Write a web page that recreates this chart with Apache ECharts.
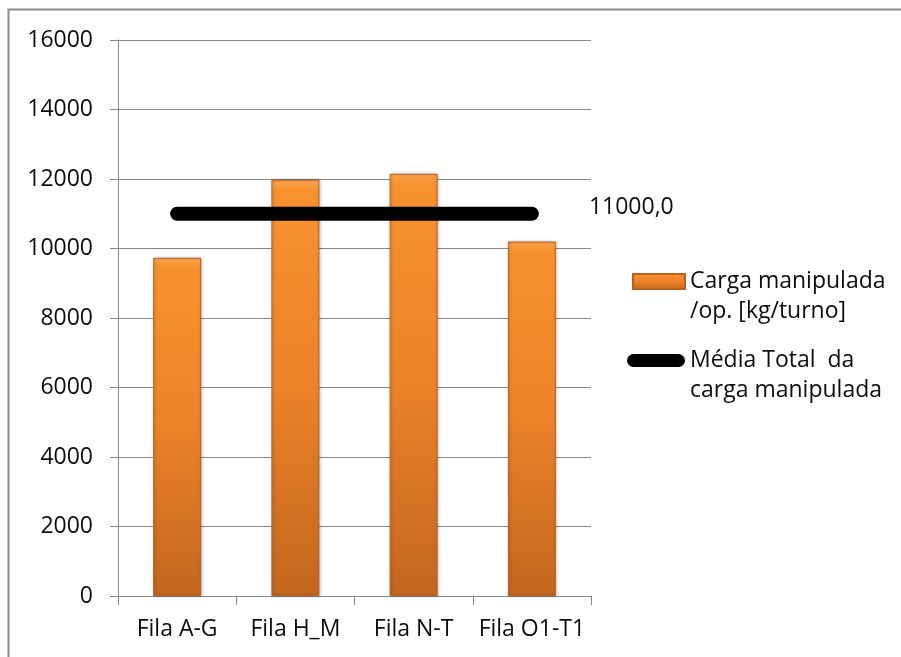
<!DOCTYPE html>
<html>
<head>
<meta charset="utf-8">
<title>Carga manipulada por fila</title>
<script src="https://cdn.jsdelivr.net/npm/echarts@6/dist/echarts.min.js"></script>
<style>
  html, body { margin: 0; padding: 0; background: #fff; }
  #chart { width: 901px; height: 657px; }
</style>
</head>
<body>
<div id="chart"></div>
<script>
// Rows of the warehouse and the load handled per operator in each
const categories = ['Fila A-G', 'Fila H_M', 'Fila N-T', 'Fila O1-T1'];
const cargaValues = [9730, 11980, 12150, 10200];
// Overall average, drawn as a flat line across the rows
const mediaTotal = 11000;
const mediaValues = [mediaTotal, mediaTotal, mediaTotal, mediaTotal];
const yTicks = { min: 0, max: 16000, step: 2000 };
const seriesNames = ['Carga manipulada\n/op. [kg/turno]', 'Média Total  da\ncarga manipulada'];

const FONT = "'Open Sans', 'Noto Sans', sans-serif";
const AXIS_GRAY = '#878787';
const TEXT_COLOR = '#0d0d0d';
const LINE_H = 30;

const chart = echarts.init(document.getElementById('chart'), null, { renderer: 'canvas' });

const barGradient = new echarts.graphic.LinearGradient(0, 0, 0, 1, [
  { offset: 0, color: '#FBA650' },
  { offset: 0.025, color: '#F8922F' },
  { offset: 0.5, color: '#EC8229' },
  { offset: 1, color: '#C2661E' }
]);

// A leading blank line puts the first line of each two-line name level with its icon
const legendText = {
  fontFamily: FONT,
  fontSize: 23,
  color: TEXT_COLOR,
  lineHeight: LINE_H
};
const legendFormatter = (name) => '\n' + name;

chart.setOption({
  animation: false,
  backgroundColor: '#fff',
  textStyle: { fontFamily: FONT },
  grid: { left: 118, right: 310, top: 40, bottom: 61, containLabel: false },
  legend: [
    {
      data: [seriesNames[0]],
      left: 632,
      top: 281.5 - (LINE_H * 3) / 2,
      padding: 0,
      itemWidth: 52,
      itemHeight: 15,
      icon: 'rect',
      selectedMode: false,
      formatter: legendFormatter,
      textStyle: legendText
    },
    {
      data: [seriesNames[1]],
      left: 627,
      top: 360.5 - (LINE_H * 3) / 2,
      padding: 0,
      itemWidth: 58,
      itemHeight: 13,
      icon: 'path://M6.5,0 H51.5 A6.5,6.5 0 0 1 51.5,13 H6.5 A6.5,6.5 0 0 1 6.5,0 Z',
      itemStyle: { color: '#000' },
      selectedMode: false,
      formatter: legendFormatter,
      textStyle: legendText
    }
  ],
  xAxis: {
    type: 'category',
    data: categories,
    boundaryGap: true,
    axisLine: { show: true, lineStyle: { color: AXIS_GRAY, width: 1 } },
    axisTick: { show: true, length: 9, interval: 0, lineStyle: { color: AXIS_GRAY } },
    axisLabel: { fontFamily: FONT, fontSize: 23, color: TEXT_COLOR, margin: 22, interval: 0 },
    splitLine: { show: false }
  },
  yAxis: {
    type: 'value',
    min: yTicks.min,
    max: yTicks.max,
    interval: yTicks.step,
    axisLine: { show: true, lineStyle: { color: AXIS_GRAY, width: 1 } },
    axisTick: { show: true, length: 8, lineStyle: { color: AXIS_GRAY } },
    axisLabel: {
      fontFamily: FONT,
      fontSize: 23,
      color: TEXT_COLOR,
      margin: 25,
      formatter: (v) => String(v)
    },
    splitLine: { show: true, lineStyle: { color: AXIS_GRAY, width: 1 } }
  },
  series: [
    {
      name: seriesNames[0],
      type: 'bar',
      data: cargaValues,
      barWidth: 48,
      itemStyle: {
        color: barGradient,
        borderColor: '#B8621E',
        borderWidth: 1,
        shadowColor: 'rgba(0,0,0,0.25)',
        shadowBlur: 3,
        shadowOffsetX: 1
      },
      z: 2
    },
    {
      name: seriesNames[1],
      type: 'line',
      data: mediaValues,
      symbol: 'none',
      lineStyle: { color: '#000', width: 14, cap: 'round' },
      itemStyle: { color: '#000' },
      endLabel: {
        show: true,
        formatter: (p) => p.value.toFixed(1).replace('.', ','),
        fontFamily: FONT,
        fontSize: 23,
        color: TEXT_COLOR,
        distance: 57,
        offset: [0, -6]
      },
      z: 3
    }
  ],
  graphic: [
    {
      type: 'polyline',
      shape: { points: [[8.5, 660], [8.5, 9.5], [905, 9.5]] },
      style: { stroke: '#8C8C8C', lineWidth: 2, fill: null },
      silent: true
    }
  ]
});
</script>
</body>
</html>
